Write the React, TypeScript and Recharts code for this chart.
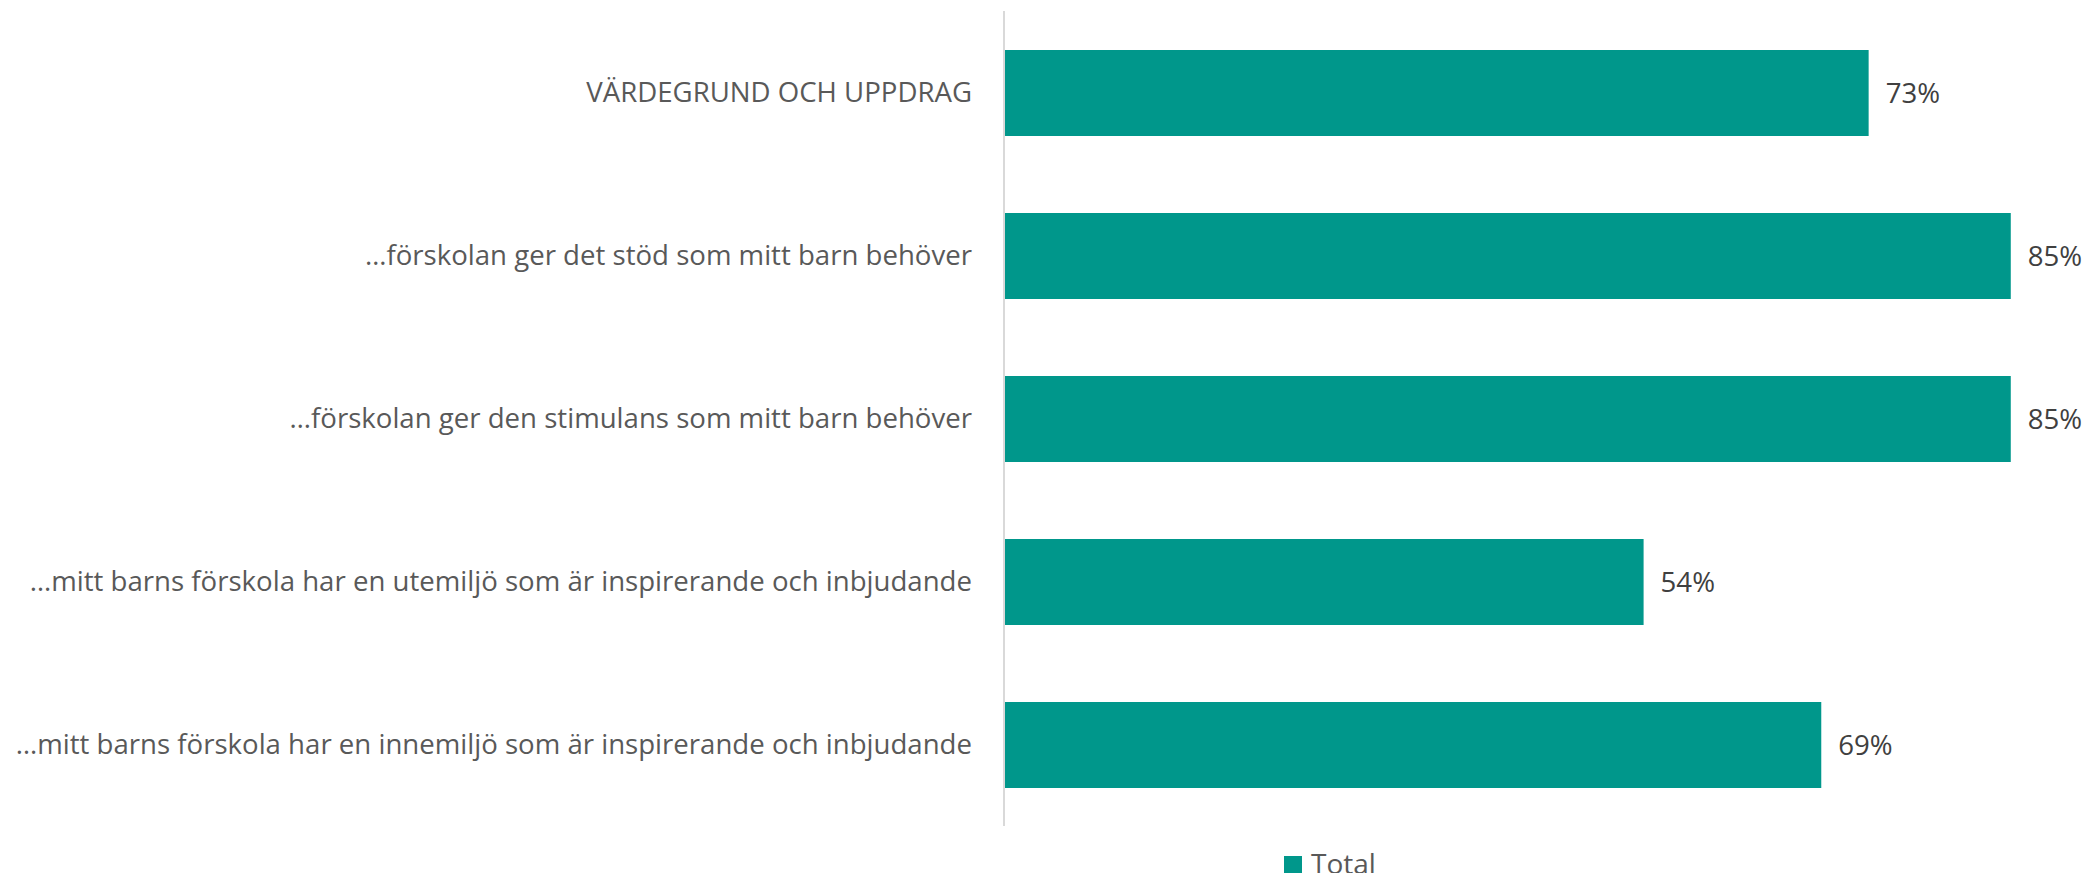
import { BarChart, Bar, XAxis, YAxis, LabelList, Legend } from 'recharts'

const categories = [
  'VÄRDEGRUND OCH UPPDRAG',
  '…förskolan ger det stöd som mitt barn behöver',
  '…förskolan ger den stimulans som mitt barn behöver',
  '…mitt barns förskola har en utemiljö som är inspirerande och inbjudande',
  '…mitt barns förskola har en innemiljö som är inspirerande och inbjudande',
]
const totals = [0.73, 0.85, 0.85, 0.54, 0.69]

const TEAL = '#00978B'
const FONT = '"Open Sans", sans-serif'

const data = categories.map((name, i) => ({ name, total: totals[i] }))

const pct = (v: number) => `${Math.round(v * 100)}%`

function LegendContent() {
  return (
    <div style={{ display: 'flex', alignItems: 'flex-start', height: 40, fontFamily: FONT }}>
      <span style={{ width: 18, height: 18, background: TEAL, marginTop: 13, marginRight: 9 }} />
      <span style={{ fontSize: 28, color: '#595959', lineHeight: '40px' }}>Total</span>
    </div>
  )
}

export default function App() {
  return (
    <div style={{ position: 'absolute', left: 0, top: 0, background: '#fff' }}>
      <BarChart
        width={2085}
        height={873}
        data={data}
        layout="vertical"
        margin={{ top: 11, right: 15, bottom: 7, left: 0 }}
        barSize={86}
      >
        <XAxis type="number" domain={[0, 0.9]} hide />
        <YAxis
          type="category"
          dataKey="name"
          width={1004}
          tickLine={false}
          tickSize={0}
          tickMargin={32}
          axisLine={{ stroke: '#D9D9D9', strokeWidth: 2 }}
          tick={{ fill: '#595959', fontSize: 27.6, fontFamily: FONT }}
          interval={0}
        />
        <Legend
          verticalAlign="bottom"
          content={<LegendContent />}
          wrapperStyle={{ top: 843, left: 1284, width: 'auto' }}
        />
        <Bar dataKey="total" name="Total" fill={TEAL} isAnimationActive={false}>
          <LabelList
            dataKey="total"
            position="right"
            offset={17}
            formatter={(v: number) => pct(v)}
            style={{ fill: '#404040', fontSize: 27.6, fontFamily: FONT }}
          />
        </Bar>
      </BarChart>
    </div>
  )
}
